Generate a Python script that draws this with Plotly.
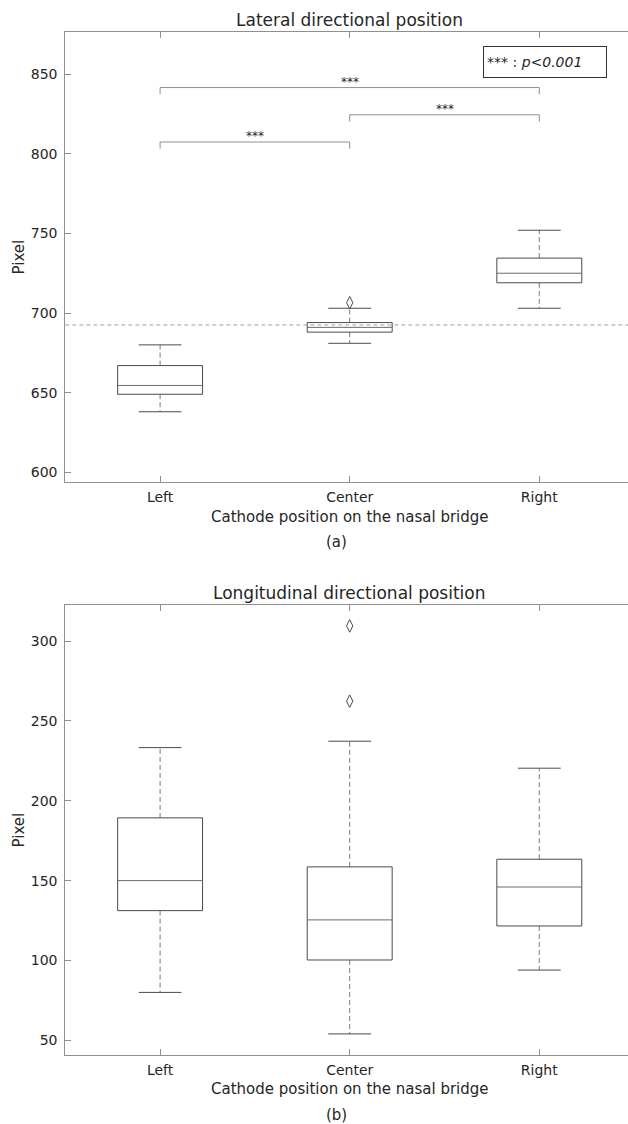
import plotly.graph_objects as go

# ---------------- data ----------------
categories = ["Left", "Center", "Right"]
positions = [1, 2, 3]

# (a) Lateral directional position
lat_lower = [638, 681, 703]
lat_q1 = [649, 688, 719]
lat_median = [654.5, 691, 725]
lat_q3 = [667, 694, 734.5]
lat_upper = [680, 703, 752]
lat_outliers = [[], [706.5], []]
lat_reference = 692.5
lat_yticks = [600, 650, 700, 750, 800, 850]

# significance brackets: (from, to, height)
bracket_from = [1, 2, 1]
bracket_to = [3, 3, 2]
bracket_height = [841.6, 824.5, 807.4]
bracket_label = "***"

# (b) Longitudinal directional position
lon_lower = [80, 54, 94]
lon_q1 = [131.2, 100.3, 121.6]
lon_median = [150, 125.4, 146]
lon_q3 = [189.3, 158.6, 163.4]
lon_upper = [233.3, 237.3, 220.4]
lon_outliers = [[], [309.5, 262.4], []]
lon_yticks = [50, 100, 150, 200, 250, 300]

# ---------------- style ----------------
FONT = "DejaVu Sans"
TXT = "#262626"
AX = "#8f8f8f"
BOX_C = "#4a4a4a"
MED_C = "#6a6a6a"
WHISK_C = "#7a7a7a"
HW = 0.224   # box half width (data units)
CW = 0.113   # cap half width
W, H = 628, 1124

fig = go.Figure()


def add_boxes(xa, ya, lo, q1, med, q3, hi, outl):
    bx, by, mx, my, wx, wy, cx, cy, ox, oy = ([] for _ in range(10))
    for p, a, b, c, d, e, o in zip(positions, lo, q1, med, q3, hi, outl):
        bx += [p - HW, p + HW, p + HW, p - HW, p - HW, None]
        by += [b, b, d, d, b, None]
        mx += [p - HW, p + HW, None]
        my += [c, c, None]
        wx += [p, p, None, p, p, None]
        wy += [d, e, None, b, a, None]
        cx += [p - CW, p + CW, None, p - CW, p + CW, None]
        cy += [e, e, None, a, a, None]
        for v in o:
            ox.append(p)
            oy.append(v)
    common = dict(xaxis=xa, yaxis=ya, showlegend=False, hoverinfo="skip")
    fig.add_trace(go.Scatter(x=wx, y=wy, mode="lines",
                             line=dict(color=WHISK_C, width=1, dash="5px,3px"), **common))
    fig.add_trace(go.Scatter(x=cx, y=cy, mode="lines",
                             line=dict(color=BOX_C, width=1), **common))
    fig.add_trace(go.Scatter(x=bx, y=by, mode="lines",
                             line=dict(color=BOX_C, width=1), **common))
    fig.add_trace(go.Scatter(x=mx, y=my, mode="lines",
                             line=dict(color=MED_C, width=1), **common))
    fig.add_trace(go.Scatter(x=ox, y=oy, mode="markers",
                             marker=dict(symbol="diamond-tall-open", size=9,
                                         color=BOX_C, line=dict(width=1, color=BOX_C)),
                             **common))


add_boxes("x", "y", lat_lower, lat_q1, lat_median, lat_q3, lat_upper, lat_outliers)
add_boxes("x2", "y2", lon_lower, lon_q1, lon_median, lon_q3, lon_upper, lon_outliers)

# significance brackets
tick_drop = 4.2
for a, b, h in zip(bracket_from, bracket_to, bracket_height):
    fig.add_trace(go.Scatter(x=[a, a, b, b], y=[h - tick_drop, h, h, h - tick_drop],
                             mode="lines", line=dict(color=AX, width=1),
                             xaxis="x", yaxis="y", showlegend=False, hoverinfo="skip"))

xl = 65.3 / W
xr_val = 0.5 + (W - 65.3) / 189.6

top_dom = [1 - 482.3 / H, 1 - 32.3 / H]
bot_dom = [1 - 1055 / H, 1 - 605 / H]

xaxis_common = dict(
    domain=[xl, 1], range=[0.5, xr_val], tickvals=positions, ticktext=categories,
    ticks="inside", ticklen=6, tickcolor=AX, showline=True, linecolor=AX, linewidth=1,
    mirror="ticks", showgrid=False, zeroline=False,
    tickfont=dict(family=FONT, size=14, color=TXT), ticklabelstandoff=2,
)
yaxis_common = dict(
    ticks="inside", ticklen=6, tickcolor=AX, showline=True, linecolor=AX, linewidth=1,
    mirror=False, showgrid=False, zeroline=False,
    tickfont=dict(family=FONT, size=14, color=TXT), ticklabelstandoff=4,
)

fig.update_layout(
    width=W, height=H, margin=dict(l=0, r=0, t=0, b=0),
    paper_bgcolor="white", plot_bgcolor="white",
    xaxis=dict(anchor="y", **xaxis_common),
    yaxis=dict(anchor="x", domain=top_dom, range=[593.7, 876.3], tickvals=lat_yticks,
               **yaxis_common),
    xaxis2=dict(anchor="y2", **xaxis_common),
    yaxis2=dict(anchor="x2", domain=bot_dom, range=[40.8, 322.6], tickvals=lon_yticks,
                **yaxis_common),
)

# reference line
fig.add_shape(type="line", xref="x domain", yref="y", x0=0, x1=1,
              y0=lat_reference, y1=lat_reference,
              line=dict(color="#a0a0a0", width=1, dash="4px,3px"))

ann = []


def text(x, y, s, size, xref="paper", yref="paper", **kw):
    d = dict(x=x, y=y, xref=xref, yref=yref, text=s, showarrow=False,
             xanchor="center", yanchor="middle",
             font=dict(family=FONT, size=size, color=TXT))
    d.update(kw)
    ann.append(d)


text(2, 1 - 20 / H, "Lateral directional position", 17, xref="x")
text(2, 1 - 593 / H, "Longitudinal directional position", 17, xref="x2")
text(2, 1 - 517 / H, "Cathode position on the nasal bridge", 15, xref="x")
text(2, 1 - 1089 / H, "Cathode position on the nasal bridge", 15, xref="x2")
text(336 / W, 1 - 542 / H, "(a)", 15)
text(336 / W, 1 - 1115 / H, "(b)", 15)
text(18.5 / W, 1 - 257 / H, "Pixel", 15, textangle=-90)
text(18.5 / W, 1 - 830 / H, "Pixel", 15, textangle=-90)

for a, b, h in zip(bracket_from, bracket_to, bracket_height):
    text((a + b) / 2, h, bracket_label, 12, xref="x", yref="y", yshift=6)

text(545 / W, 1 - 62 / H, "*** : <i>p&lt;0.001</i>", 14,
     bordercolor="#333", borderwidth=1, borderpad=3, bgcolor="white",
     width=116, height=24, align="left")

fig.update_layout(annotations=ann)

fig.write_html("out.html")
